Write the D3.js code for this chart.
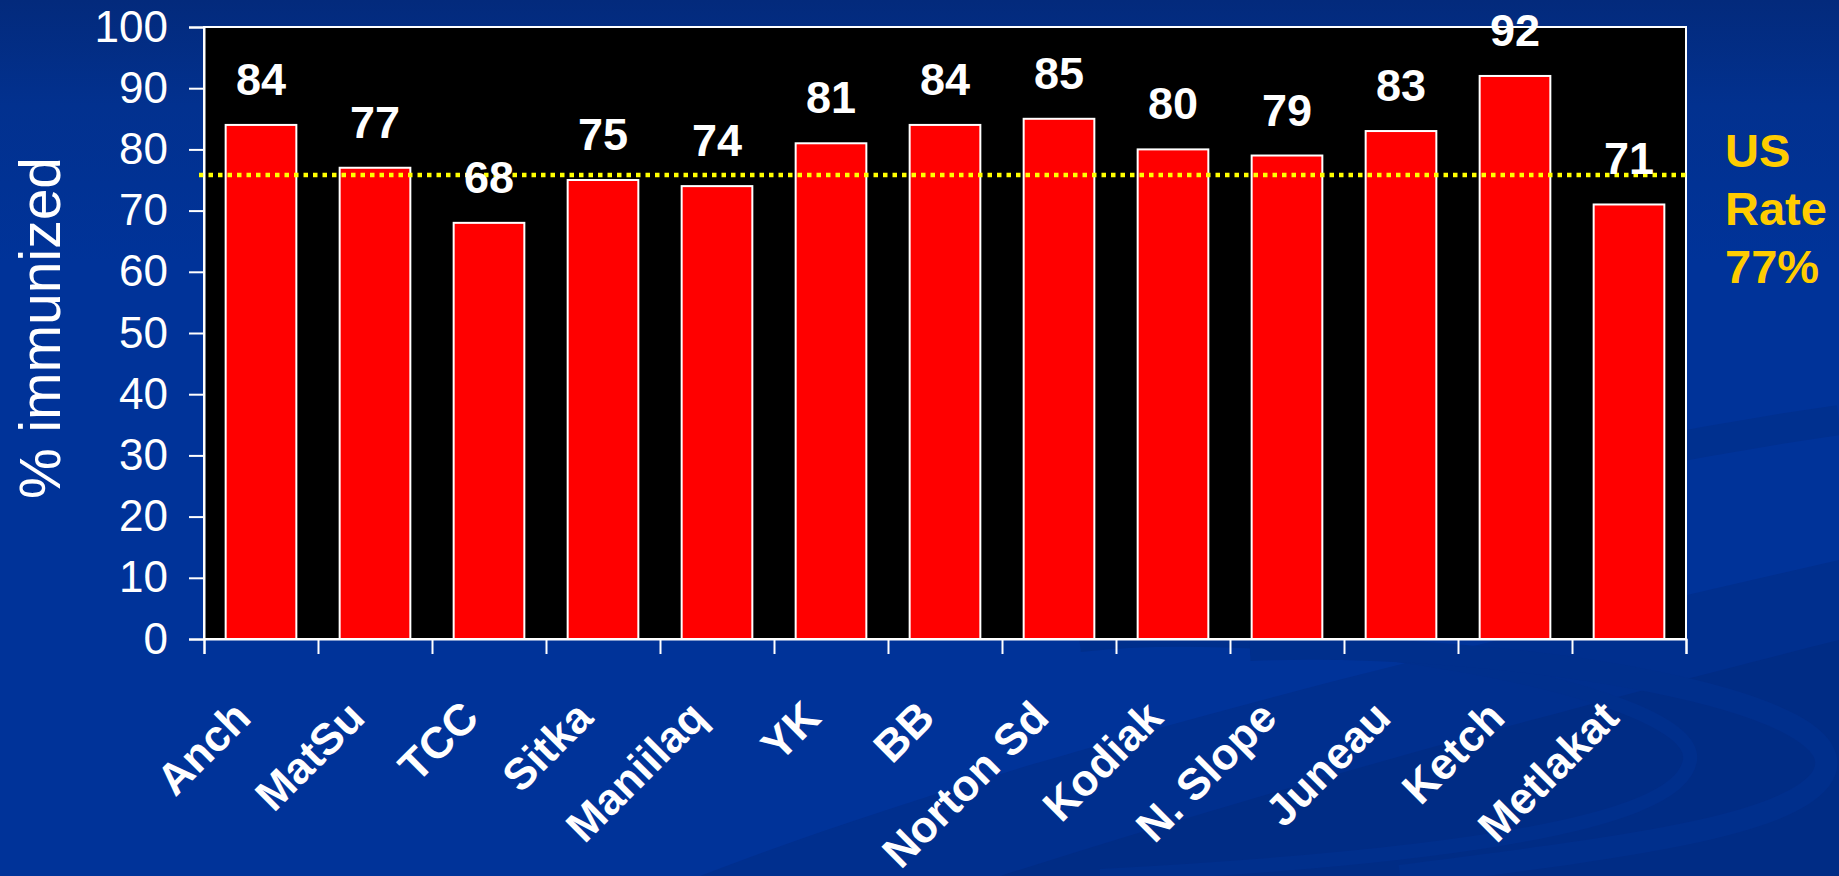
<!DOCTYPE html>
<html>
<head>
<meta charset="utf-8">
<script src="https://cdn.jsdelivr.net/npm/d3@7"></script>
<style>
  html, body { margin: 0; padding: 0; background: #003399; overflow: hidden; }
  svg { display: block; }
  text { font-family: "Liberation Sans", Arial, sans-serif; }
</style>
</head>
<body>
<svg id="chart"></svg>
<script>
// data
var regions = ["Anch", "MatSu", "TCC", "Sitka", "Maniilaq", "YK", "BB", "Norton Sd", "Kodiak", "N. Slope", "Juneau", "Ketch", "Metlakat"];
var immunized = [84, 77, 68, 75, 74, 81, 84, 85, 80, 79, 83, 92, 71];
var yTicks = [0, 10, 20, 30, 40, 50, 60, 70, 80, 90, 100];
var usRateLine = 75.8;
var usRateLabel = ["US", "Rate", "77%"];

var svgWidth = 1839;
var svgHeight = 876;
var margin = { top: 27, right: 153, bottom: 237, left: 204 };
var chartWidth = svgWidth - margin.left - margin.right;
var chartHeight = svgHeight - margin.top - margin.bottom;

var svg = d3.select("#chart")
  .attr("width", svgWidth)
  .attr("height", svgHeight);

// background with the darker swooshes
var defs = svg.append("defs");
var bg = defs.append("linearGradient").attr("id", "bg")
  .attr("x1", 0).attr("y1", 0).attr("x2", 0).attr("y2", 1);
bg.append("stop").attr("offset", "0%").attr("stop-color", "#032a7c");
bg.append("stop").attr("offset", "12%").attr("stop-color", "#02318f");
bg.append("stop").attr("offset", "30%").attr("stop-color", "#003399");
bg.append("stop").attr("offset", "100%").attr("stop-color", "#003399");

svg.append("rect")
  .attr("width", svgWidth).attr("height", svgHeight)
  .attr("fill", "url(#bg)");

var swoosh = svg.append("g");
swoosh.append("path")
  .attr("d", "M 700 876 C 1000 760, 1400 660, 1839 560 L 1839 876 Z")
  .attr("fill", "#002f8e");
swoosh.append("path")
  .attr("d", "M 1000 876 C 1300 780, 1600 700, 1839 640 L 1839 876 Z")
  .attr("fill", "#002c85");
swoosh.append("path")
  .attr("d", "M 1080 645 C 1300 620, 1700 690, 1690 760 C 1680 830, 1400 860, 1100 876")
  .attr("fill", "none").attr("stroke", "#002f8c").attr("stroke-width", 14);
swoosh.append("path")
  .attr("d", "M 1250 650 C 1500 640, 1880 700, 1820 780 C 1780 830, 1600 850, 1400 876")
  .attr("fill", "none").attr("stroke", "#002f8c").attr("stroke-width", 22);
swoosh.append("path")
  .attr("d", "M 1839 420 C 1700 440, 1550 470, 1440 500")
  .attr("fill", "none").attr("stroke", "#00308f").attr("stroke-width", 30);

var chart = svg.append("g")
  .attr("transform", "translate(" + margin.left + "," + margin.top + ")");

// scales
var xScale = d3.scaleBand()
  .domain(regions)
  .range([0, chartWidth])
  .paddingInner(0.38)
  .paddingOuter(0.19);

var xTickScale = d3.scaleLinear()
  .domain([0, regions.length])
  .range([0, chartWidth]);

var yScale = d3.scaleLinear()
  .domain([0, 100])
  .range([chartHeight, 0]);

// plot area
chart.append("rect")
  .attr("width", chartWidth)
  .attr("height", chartHeight)
  .attr("fill", "#000")
  .attr("stroke", "#fff")
  .attr("stroke-width", 2);

// bars
chart.selectAll(".bar")
  .data(immunized)
  .enter()
  .append("rect")
  .attr("class", "bar")
  .attr("x", function (d, i) { return xScale(regions[i]); })
  .attr("y", function (d) { return yScale(d); })
  .attr("width", xScale.bandwidth())
  .attr("height", function (d) { return chartHeight - yScale(d); })
  .attr("fill", "#ff0000")
  .attr("stroke", "#fff")
  .attr("stroke-width", 2);

// US rate dotted line
chart.append("line")
  .attr("x1", -5)
  .attr("x2", chartWidth)
  .attr("y1", yScale(usRateLine))
  .attr("y2", yScale(usRateLine))
  .attr("stroke", "#ffff00")
  .attr("stroke-width", 4.5)
  .attr("stroke-dasharray", "4.5,5");

// value labels
chart.selectAll(".bar-value")
  .data(immunized)
  .enter()
  .append("text")
  .attr("class", "bar-value")
  .attr("x", function (d, i) { return xScale(regions[i]) + xScale.bandwidth() / 2; })
  .attr("y", function (d) { return yScale(d) - 30; })
  .attr("text-anchor", "middle")
  .attr("fill", "#fff")
  .style("font-size", "45px")
  .style("font-weight", "bold")
  .text(function (d) { return d; });

// y axis
var yAxis = chart.append("g")
  .attr("class", "axis")
  .call(d3.axisLeft(yScale).tickValues(yTicks).tickSize(15).tickPadding(21));
yAxis.select(".domain").attr("stroke", "#fff").attr("stroke-width", 2);
yAxis.selectAll(".tick line").attr("stroke", "#fff").attr("stroke-width", 2);
yAxis.selectAll(".tick text")
  .attr("fill", "#fff")
  .style("font-size", "44px")
  .style("font-family", "'Liberation Sans', Arial, sans-serif");

// x axis (ticks at band edges)
var xAxis = chart.append("g")
  .attr("class", "axis")
  .attr("transform", "translate(0," + chartHeight + ")")
  .call(d3.axisBottom(xTickScale).tickValues(d3.range(regions.length + 1)).tickSize(15).tickFormat(""));
xAxis.select(".domain").attr("stroke", "#fff").attr("stroke-width", 2);
xAxis.selectAll(".tick line").attr("stroke", "#fff").attr("stroke-width", 2);

// x category labels, rotated
chart.selectAll(".x-label")
  .data(regions)
  .enter()
  .append("text")
  .attr("class", "x-label")
  .attr("transform", function (d) {
    var cx = xScale(d) + xScale.bandwidth() / 2 - 8;
    return "translate(" + cx + "," + (chartHeight + 81) + ") rotate(-45)";
  })
  .attr("text-anchor", "end")
  .attr("fill", "#fff")
  .style("font-size", "44px")
  .style("font-weight", "bold")
  .text(function (d) { return d; });

// y axis title
svg.append("text")
  .attr("transform", "translate(60,328) rotate(-90)")
  .attr("text-anchor", "middle")
  .attr("fill", "#fff")
  .style("font-size", "57px")
  .text("% immunized");

// US rate label
svg.append("g")
  .selectAll("text")
  .data(usRateLabel)
  .enter()
  .append("text")
  .attr("x", 1725)
  .attr("y", function (d, i) { return 167 + i * 58; })
  .attr("fill", "#ffcc00")
  .style("font-size", "47px")
  .style("font-weight", "bold")
  .text(function (d) { return d; });
</script>
</body>
</html>
